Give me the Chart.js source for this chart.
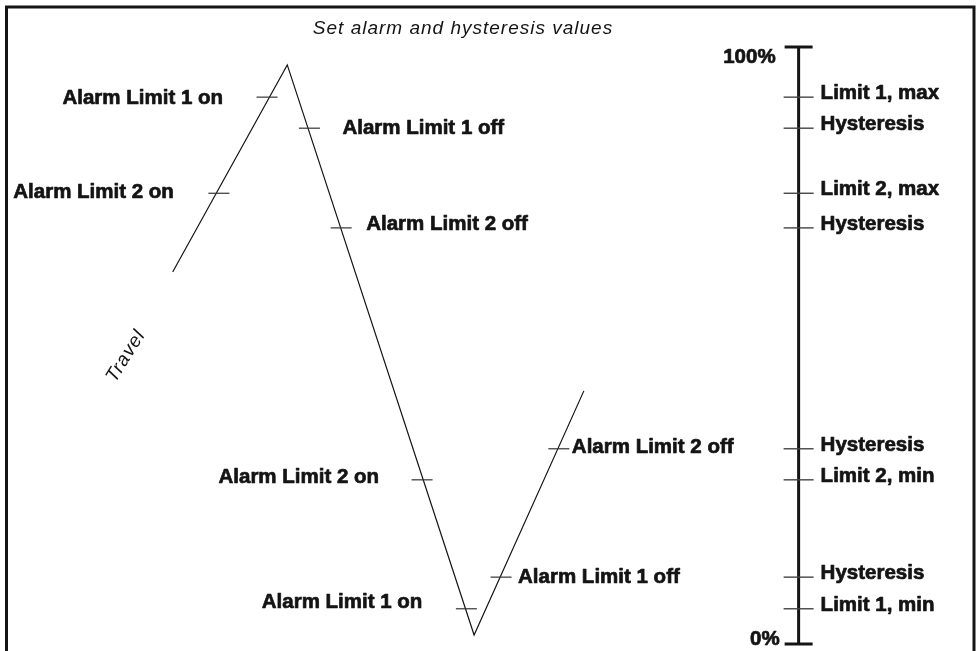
<!DOCTYPE html>
<html>
<head>
<meta charset="utf-8">
<script src="https://cdn.jsdelivr.net/npm/chart.js@4.4.1/dist/chart.umd.min.js"></script>
<style>
  html, body { margin: 0; padding: 0; background: #fff; }
  #wrap { width: 979px; height: 651px; position: relative; }
</style>
</head>
<body>
<div id="wrap"><canvas id="alarm_chart"></canvas></div>
<script>
// travel path: time (arbitrary units 0-100) and position in % of range
var travelX = [17.1, 29.0, 48.4, 59.8];
var travelY = [62.3, 97.0, 1.5, 42.4];

// levels on the right hand scale, in %
var levelNames = ['Limit 1, max', 'Hysteresis', 'Limit 2, max', 'Hysteresis',
                  'Hysteresis', 'Limit 2, min', 'Hysteresis', 'Limit 1, min'];
var levelValues = [91.6, 86.4, 75.5, 69.7, 32.7, 27.5, 11.2, 5.9];
var scaleEnds = [0, 100];
var scaleEndNames = ['0%', '100%'];
var scaleTime = 82.1;

// points where the travel switches an alarm
var switchNames = ['Alarm Limit 2 on', 'Alarm Limit 1 on', 'Alarm Limit 1 off', 'Alarm Limit 2 off',
                   'Alarm Limit 2 on', 'Alarm Limit 1 on', 'Alarm Limit 1 off', 'Alarm Limit 2 off'];
var switchX = [21.9, 26.9, 31.3, 34.6, 43.0, 47.6, 51.2, 57.2];
var switchY = [75.5, 91.6, 86.4, 69.7, 27.5, 5.9, 11.2, 32.7];

// label placement next to each switch tick (pixels)
var switchLabelPos = [
    {dx: -45, dy: -1, align: 'right'},
    {dx: -44, dy: 1, align: 'right'},
    {dx: 33, dy: 0, align: 'left'},
    {dx: 25, dy: -4, align: 'left'},
    {dx: -43, dy: -2, align: 'right'},
    {dx: -44, dy: -6, align: 'right'},
    {dx: 17, dy: 0, align: 'left'},
    {dx: 13, dy: -1, align: 'left'}
];

var ink = '#141414';
var boldFont = 'bold 20.5px "Liberation Sans", Arial, sans-serif';
var italicFont = 'italic 19px "Liberation Sans", Arial, sans-serif';

function pts(xs, ys) {
    return xs.map(function (x, i) { return {x: x, y: ys[i]}; });
}
function onScale(ys) {
    return ys.map(function (y) { return {x: scaleTime, y: y}; });
}

// heavy text: fill plus a thin stroke
function heavyText(ctx, s, x, y) {
    ctx.fillText(s, x, y);
    ctx.strokeText(s, x, y);
}

var diagramText = {
    id: 'diagramText',
    beforeDraw: function (chart) {
        var ctx = chart.ctx;
        ctx.save();
        ctx.strokeStyle = ink;
        ctx.lineWidth = 3;
        ctx.beginPath();
        ctx.moveTo(6.5, chart.height);
        ctx.lineTo(6.5, 7);
        ctx.lineTo(974, 7);
        ctx.lineTo(974, chart.height);
        ctx.stroke();
        ctx.restore();
    },
    afterDatasetsDraw: function (chart) {
        var ctx = chart.ctx;
        var xs = chart.scales.x, ys = chart.scales.y;
        ctx.save();
        ctx.fillStyle = ink;
        ctx.strokeStyle = ink;

        // title
        ctx.font = italicFont;
        ctx.letterSpacing = '1px';
        ctx.textAlign = 'center';
        ctx.textBaseline = 'alphabetic';
        ctx.fillText('Set alarm and hysteresis values', 463, 34);

        // travel
        ctx.save();
        ctx.translate(126, 356);
        ctx.rotate(-58 * Math.PI / 180);
        ctx.textBaseline = 'middle';
        ctx.fillText('Travel', 0, 0);
        ctx.restore();

        ctx.font = boldFont;
        ctx.letterSpacing = '0px';
        ctx.lineWidth = 0.7;
        ctx.lineJoin = 'round';

        // switch labels
        ctx.textBaseline = 'middle';
        switchNames.forEach(function (name, i) {
            var p = switchLabelPos[i];
            ctx.textAlign = p.align;
            heavyText(ctx, name, xs.getPixelForValue(switchX[i]) + p.dx,
                ys.getPixelForValue(switchY[i]) + p.dy);
        });

        // scale labels
        var sx = xs.getPixelForValue(scaleTime);
        ctx.textBaseline = 'alphabetic';
        ctx.textAlign = 'left';
        levelNames.forEach(function (name, i) {
            heavyText(ctx, name, sx + 22, ys.getPixelForValue(levelValues[i]) + 2);
        });
        ctx.textAlign = 'right';
        heavyText(ctx, scaleEndNames[0], sx - 19, ys.getPixelForValue(scaleEnds[0]) + 1);
        heavyText(ctx, scaleEndNames[1], sx - 23, ys.getPixelForValue(scaleEnds[1]) + 16);
        ctx.restore();
    }
};

new Chart(document.getElementById('alarm_chart'), {
    type: 'scatter',
    data: {
        datasets: [
            {
                label: 'Switch points',
                data: pts(switchX, switchY),
                pointStyle: 'line',
                pointRadius: 10.5,
                pointBorderWidth: 1.2,
                pointBorderColor: '#333',
                showLine: false,
                clip: false
            },
            {
                label: 'Travel',
                data: pts(travelX, travelY),
                showLine: true,
                borderColor: ink,
                borderWidth: 1.2,
                pointRadius: 0,
                tension: 0,
                clip: false
            },
            {
                label: 'Levels',
                data: onScale(levelValues),
                pointStyle: 'line',
                pointRadius: 15,
                pointBorderWidth: 1.4,
                pointBorderColor: '#444',
                showLine: false,
                clip: false
            },
            {
                label: 'Scale ends',
                data: onScale(scaleEnds),
                pointStyle: 'line',
                pointRadius: 14,
                pointBorderWidth: 3,
                pointBorderColor: ink,
                showLine: false,
                clip: false
            },
            {
                label: 'Scale',
                data: onScale(scaleEnds),
                showLine: true,
                borderColor: ink,
                borderWidth: 3,
                pointRadius: 0,
                clip: false
            }
        ]
    },
    options: {
        responsive: true,
        maintainAspectRatio: false,
        animation: false,
        events: [],
        layout: {
            autoPadding: false,
            padding: {left: 8, right: 8, top: 47, bottom: 7}
        },
        scales: {
            x: {type: 'linear', min: 0, max: 100, display: false},
            y: {type: 'linear', min: 0, max: 100, display: false}
        },
        plugins: {
            legend: {display: false},
            tooltip: {enabled: false}
        }
    },
    plugins: [diagramText]
});
</script>
</body>
</html>
